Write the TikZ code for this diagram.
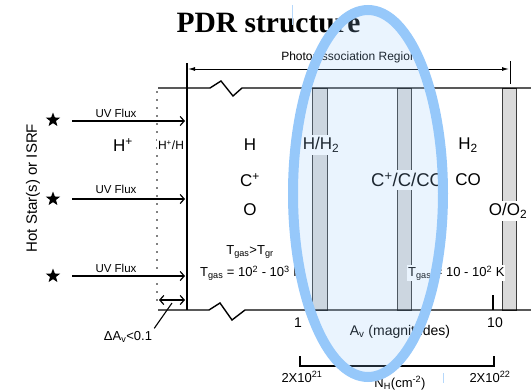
\documentclass[tikz,border=0pt]{standalone}
\usepackage{fontspec}
\setmainfont{Liberation Sans}
\newfontfamily\titlefont{Liberation Serif}
\usetikzlibrary{arrows.meta,shapes.geometric}
\definecolor{ringblue}{RGB}{150,200,250}
\definecolor{barfill}{RGB}{218,218,218}
\definecolor{baredge}{RGB}{60,60,60}
\tikzset{
  big/.style={font=\fontsize{17}{17}\selectfont, inner sep=1pt},
  mid/.style={font=\fontsize{14}{14}\selectfont, inner sep=1pt},
  tlbl/.style={font=\fontsize{13}{13}\selectfont, inner sep=1pt},
  small/.style={font=\fontsize{12}{12}\selectfont, inner sep=1pt},
  uvlbl/.style={font=\fontsize{11.5}{12}\selectfont, inner sep=1pt},
  onbar/.style={fill=white, inner sep=3pt},
  barbox/.style={draw=baredge, fill=barfill, line width=0.8pt},
  wall/.style={line width=1.4pt},
  uv/.style={line width=1.2pt, -{Straight Barb[length=4pt,width=9pt]}},
  dimline/.style={line width=1pt, {Latex[length=7pt,width=4pt]}-{Latex[length=7pt,width=4pt]}},
  starmark/.style={star, star points=5, star point ratio=2.4, fill=black, minimum size=15pt, inner sep=0pt},
}
\begin{document}
\begin{tikzpicture}[x=1pt,y=-1pt]
\useasboundingbox (0,0) rectangle (531,391);

% title
\node[font=\titlefont\bfseries\fontsize{29.5}{30}\selectfont, anchor=base, inner sep=0pt] (title) at (268.5,32) {PDR structure};

% dimension arrow
\node[small] (pdrlbl) at (349,57) {Photodissociation Region};
\coordinate (dl) at (188,69);
\coordinate (dr) at (509,69);
\draw[dimline] (dl) -- (dr);
\coordinate (tkt) at (510,61);
\coordinate (tkb) at (510,84);
\draw[line width=1pt] (tkt) -- (tkb);

% gray bars
\draw[barbox] (312,88) rectangle (327,310);
\draw[barbox] (397,88) rectangle (411,310);
\draw[barbox] (502,88) rectangle (516,310);

% box lines
\draw[wall] (158,88) -- (210,88) -- (221,81) -- (233,96) -- (242,88) -- (531,88);
\draw[wall] (158,310) -- (209,310) -- (220,303) -- (232,320) -- (245,310) -- (531,310);
\coordinate (wt) at (187,63);
\coordinate (wb) at (187,310);
\draw[wall] (wt) -- (wb);

% dotted ionisation front
\coordinate (dt) at (157,92);
\coordinate (db) at (157,306);
\draw[line width=1.8pt, dash pattern=on 0pt off 8pt, line cap=round] (dt) -- (db);

% source
\node[rotate=90, font=\fontsize{15}{15}\selectfont] (src) at (33,188) {Hot Star(s) or ISRF};
\node[starmark] (st1) at (53,120) {};
\node[starmark] (st2) at (53,199) {};
\node[starmark] (st3) at (53,276) {};
\coordinate (a1) at (72,121); \coordinate (b1) at (185,121);
\coordinate (a2) at (72,199); \coordinate (b2) at (185,199);
\coordinate (a3) at (72,276); \coordinate (b3) at (185,276);
\draw[uv] (a1) -- (b1);
\draw[uv] (a2) -- (b2);
\draw[uv] (a3) -- (b3);
\node[uvlbl] (uv1) at (116,113) {UV Flux};
\node[uvlbl] (uv2) at (116,189) {UV Flux};
\node[uvlbl] (uv3) at (116,268) {UV Flux};

% delta Av
\coordinate (da) at (159,300);
\coordinate (db2) at (185,300);
\draw[line width=1.2pt, {Straight Barb[length=4pt,width=9pt]}-{Straight Barb[length=4pt,width=9pt]}] (da) -- (db2);
\node[font=\fontsize{13}{13}\selectfont, inner sep=1pt] (dav) at (128,337) {ΔA\textsubscript{v}<0.1};
\coordinate (ldr) at (172,303);
\draw[line width=1.1pt] (dav.north east) ++(1,-2) -- (ldr);

% species
\node[big] (hp) at (123,145) {H\textsuperscript{+}};
\node[small, fill=white] (hph) at (171,145) {H\textsuperscript{+}/H};
\node[big] (h) at (250,145) {H};
\node[big] (cp) at (250,180) {C\textsuperscript{+}};
\node[big] (o) at (250,210) {O};
\node[big, onbar] (hh2) at (321,145) {H/H\textsubscript{2}};
\node[big, onbar, anchor=west, font=\fontsize{18.5}{18.5}\selectfont] (ccco) at (368,180) {C\textsuperscript{+}/C/CO};
\node[big] (h2) at (468,145) {H\textsubscript{2}};
\node[big] (co) at (468,180) {CO};
\node[big, onbar] (oo2) at (508,211) {O/O\textsubscript{2}};

% temperatures
\node[tlbl] (tgt) at (250,252) {T\textsubscript{gas}>T\textsubscript{gr}};
\node[tlbl, anchor=west, fill=white] (tl) at (199,273) {T\textsubscript{gas} = 10\textsuperscript{2} - 10\textsuperscript{3} K};
\node[tlbl, anchor=west, fill=white] (tr) at (407,273) {T\textsubscript{gas} = 10 - 10\textsuperscript{2} K};

% Av axis
\coordinate (t2a) at (493,295); \coordinate (t2b) at (493,310);
\draw[line width=1.1pt] (t2a) -- (t2b);
\node[mid] (one) at (298,323) {1};
\node[mid] (ten) at (495,323) {10};
\node[mid] (av) at (400,332) {A\textsubscript{v} (magnitudes)};

% column density bracket
\coordinate (bl) at (300,356); \coordinate (br) at (494,356);
\draw[wall] (bl) -- (300,366) -- (494,366) -- (br);
\node[font=\fontsize{13}{13}\selectfont, inner sep=1pt] (n21) at (302,377) {2X10\textsuperscript{21}};
\node[font=\fontsize{13}{13}\selectfont, inner sep=1pt] (n22) at (490,377) {2X10\textsuperscript{22}};
\node[font=\fontsize{13}{13}\selectfont, inner sep=1pt] (nh) at (400,383) {N\textsubscript{H}(cm\textsuperscript{-2})};

% highlight ellipse
\fill[ringblue, fill opacity=0.2] (368,193.5) ellipse [x radius=75pt, y radius=183.5pt];
\draw[ringblue, line width=10pt] (368,193.5) ellipse [x radius=75pt, y radius=183.5pt];
\coordinate (m1a) at (292,5); \coordinate (m1b) at (292,25);
\coordinate (m2a) at (443,373); \coordinate (m2b) at (443,383);
\draw[ringblue!70, line width=0.8pt] (m1a) -- (m1b);
\draw[ringblue!70, line width=0.8pt] (m2a) -- (m2b);
\end{tikzpicture}
\end{document}
